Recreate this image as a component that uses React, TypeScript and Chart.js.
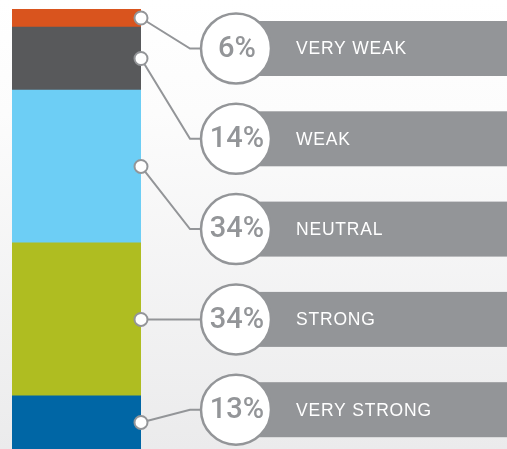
import React, { useEffect, useRef } from "react";
import { Chart, registerables } from "chart.js";

Chart.register(...registerables);

// Categories listed top to bottom as in the picture
const categories = ["VERY WEAK", "WEAK", "NEUTRAL", "STRONG", "VERY STRONG"];
const values = [6, 14, 34, 34, 13];
const percentLabels = ["6%", "14%", "34%", "34%", "13%"];
const colors = ["#d9541e", "#58595b", "#6dcef5", "#afbd21", "#0066a5"];
const axisMin = 1.2;
const axisMax = 99;

const W = 507;
const H = 449;

export default function App() {
  const ref = useRef<HTMLCanvasElement | null>(null);

  useEffect(() => {
    document.body.style.margin = "0";
    const canvas = ref.current!;
    // stacked bottom-up: reverse order
    const order = categories.map((_, i) => categories.length - 1 - i);
    const datasets = order.map((i) => ({
      label: categories[i],
      data: [values[i]],
      backgroundColor: colors[i],
      borderWidth: 0,
      barPercentage: 1,
      categoryPercentage: 1,
    }));

    const bgPlugin = {
      id: "bg",
      beforeDraw(chart: any) {
        const ctx = chart.ctx;
        const g = ctx.createLinearGradient(0, 0, 0, chart.height);
        g.addColorStop(0, "#ffffff");
        g.addColorStop(0.25, "#fcfcfc");
        g.addColorStop(1, "#ebebec");
        ctx.save();
        ctx.fillStyle = g;
        ctx.fillRect(0, 0, chart.width, chart.height);
        ctx.restore();
      },
    };

    const gray = "#939598";
    const overlay = {
      id: "overlay",
      afterDraw(chart: any) {
        const ctx = chart.ctx;
        const area = chart.chartArea;
        const n = categories.length;
        const rowTop0 = 21;
        const rowStep = 90.3;
        const rowH = 55;
        const cx = 236;
        const r = 35;
        const elbowX = 190;
        ctx.save();
        for (let i = 0; i < n; i++) {
          const dsIndex = order.indexOf(i);
          const el = chart.getDatasetMeta(dsIndex).data[0];
          const top = Math.max(Math.min(el.y, el.base), area.top);
          const bot = Math.min(Math.max(el.y, el.base), area.bottom);
          const dotY = (top + bot) / 2;
          const dotX = area.right;
          const rowTop = rowTop0 + i * rowStep;
          const cy = rowTop + rowH / 2;

          // grey label band
          ctx.fillStyle = gray;
          ctx.fillRect(cx, rowTop, W - cx, rowH);

          // connector
          ctx.strokeStyle = gray;
          ctx.lineWidth = 2;
          ctx.lineJoin = "miter";
          ctx.beginPath();
          ctx.moveTo(dotX, dotY);
          ctx.lineTo(elbowX, cy);
          ctx.lineTo(cx - r, cy);
          ctx.stroke();

          // circle
          ctx.beginPath();
          ctx.arc(cx, cy, r, 0, Math.PI * 2);
          ctx.fillStyle = "#ffffff";
          ctx.fill();
          ctx.lineWidth = 2.5;
          ctx.strokeStyle = gray;
          ctx.stroke();

          // percent
          ctx.fillStyle = gray;
          ctx.font = "500 29px Roboto, 'Liberation Sans', Arial, sans-serif";
          ctx.textAlign = "center";
          ctx.textBaseline = "middle";
          (ctx as any).letterSpacing = "0px";
          ctx.fillText(percentLabels[i], cx + 1, cy + 1);

          // category label
          ctx.fillStyle = "#ffffff";
          ctx.font = "17.5px 'Liberation Sans', Arial, sans-serif";
          ctx.textAlign = "left";
          (ctx as any).letterSpacing = "0.8px";
          ctx.fillText(categories[i], 296, cy + 1);
          (ctx as any).letterSpacing = "0px";

          // dot on bar
          ctx.beginPath();
          ctx.arc(dotX, dotY, 6.5, 0, Math.PI * 2);
          ctx.fillStyle = "#ffffff";
          ctx.fill();
          ctx.lineWidth = 2;
          ctx.strokeStyle = gray;
          ctx.stroke();
        }
        ctx.restore();
      },
    };

    const chart = new Chart(canvas, {
      type: "bar",
      data: { labels: [""], datasets },
      options: {
        animation: false,
        responsive: false,
        maintainAspectRatio: false,
        layout: { padding: { left: 12, right: W - 141, top: 9, bottom: 0 } },
        plugins: { legend: { display: false }, tooltip: { enabled: false } },
        scales: {
          x: { stacked: true, display: false },
          y: { stacked: true, display: false, min: axisMin, max: axisMax },
        },
      },
      plugins: [bgPlugin, overlay],
    });
    return () => chart.destroy();
  }, []);

  return (
    <div style={{ position: "fixed", left: 0, top: 0, width: W, height: H }}>
      <canvas ref={ref} width={W} height={H} style={{ display: "block", width: W, height: H }} />
    </div>
  );
}
